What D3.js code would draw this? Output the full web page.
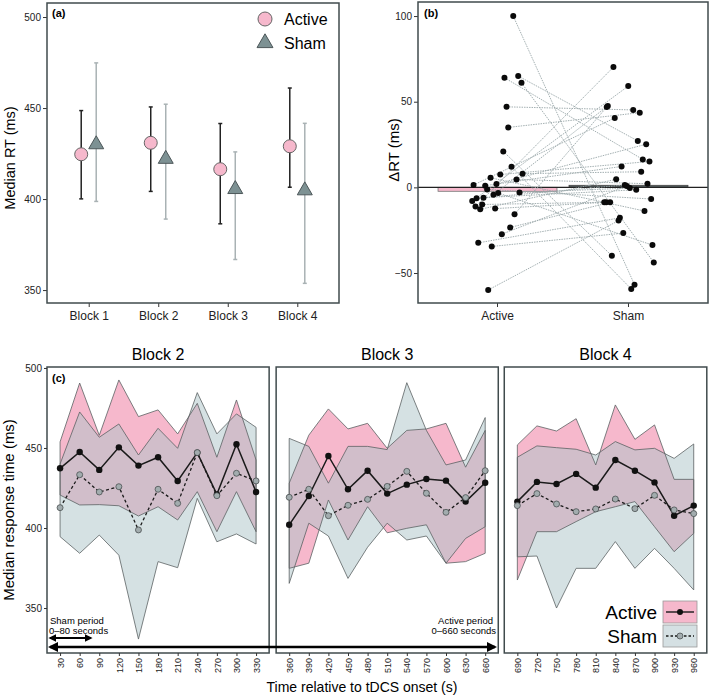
<!DOCTYPE html>
<html>
<head>
<meta charset="utf-8">
<script src="https://cdn.jsdelivr.net/npm/d3@7"></script>
<style>
body { margin: 0; background: #fff; }
svg { display: block; font-family: "Liberation Sans", Arial, sans-serif; }
</style>
</head>
<body>
<svg id="fig" width="709" height="696"></svg>
<script>
// ---- panel (a): median RT per block
var blocks = ['Block 1', 'Block 2', 'Block 3', 'Block 4'];
var activeRT = [424.6, 430.9, 416.4, 429.0];
var activeLo = [400.1, 404.2, 386.4, 406.5];
var activeHi = [448.6, 450.6, 441.5, 461.0];
var shamRT = [430.0, 422.0, 405.4, 404.7];
var shamLo = [398.7, 389.0, 366.8, 353.7];
var shamHi = [474.8, 452.1, 425.9, 441.6];

// ---- panel (b): delta RT, paired (active[i] <-> sham[i])
var groups = ['Active', 'Sham'];
var groupMean = [-2.3, 1.2];
var activeDelta = [100, 65, 64, 61, 47, 35, 21, 12, 8, 4.6, 7.5, 5.6, 1.4, 1, 2, -1.2,
  -4.3, -3.3, -3, -8, -6.4, -6, -11.2, -10, -12.8, -12.4, -15.7, -23.4, -27.3, -32.4, -34.5, -59.9];
var shamDelta = [-56.8, 27.1, 16.3, -43.8, 45.2, 43.6, -39.9, -59.3, 9.1, 2.1, 15.1, -13.8, 40.5, 12.2, 25.2, -6.8,
  47.5, -33.7, -0.4, 59.1, 1.4, -1.4, 70.2, -8.7, 4.7, -8.7, 46.9, -8.7, 0.8, -17.8, -26.7, -19.4];
// horizontal jitter, as a fraction of the band step
var activeJit = [.12, .158, .053, .183, .069, .082, .044, .107, .191, .145, .021, -.053, -.183, -.094, -.008, -.079,
  -.031, .005, .168, -.193, -.16, -.107, -.168, -.117, -.132, -.018, .13, .097, .033, -.147, -.044, -.071];
var shamJit = [.046, .071, .109, .193, .036, .086, -.127, .021, .097, .145, .16, .122, -.105, -.053, .135, .173,
  -.158, .183, .01, -.002, -.028, .059, -.115, -.185, -.094, -.17, -.166, -.14, -.013, -.066, -.04, -.076];

// ---- panel (c): time course
var times2 = [30, 60, 90, 120, 150, 180, 210, 240, 270, 300, 330];
var active2 = [437.3, 447.5, 436.3, 450.4, 439, 444.2, 429.4, 447.1, 421, 452.3, 422.5];
var sham2 = [412.7, 433.3, 422.5, 425.8, 398.8, 424.2, 415.4, 447.1, 420.2, 434.2, 429.4];
var activeHi2 = [453.8, 490.6, 457.9, 492.5, 469.6, 473.8, 458.8, 477.9, 444.2, 480, 442.5];
var activeLo2 = [420.6, 414.4, 414.6, 413.9, 407.5, 413.3, 405, 422.7, 397.7, 422.7, 397.7];
var shamHi2 = [440, 472.5, 456.7, 465, 445.6, 462.3, 449.8, 484.6, 458.8, 471.3, 462.9];
var shamLo2 = [394.6, 384.2, 395.6, 383, 330.6, 379, 375.2, 418.5, 391.4, 396.3, 390];

var times3 = [360, 390, 420, 450, 480, 510, 540, 570, 600, 630, 660];
var active3 = [402, 420, 445, 424.2, 435.8, 421.5, 427.1, 430.6, 429.6, 416.5, 428.3];
var sham3 = [419.2, 424.2, 407.7, 414.2, 417.9, 426, 435.4, 421.7, 409.8, 419, 435.8];
var activeHi3 = [428, 458, 474.4, 461.9, 465.4, 449.8, 461, 461.9, 465.4, 438, 461];
var activeLo3 = [374.8, 378, 417.5, 392.5, 413.3, 397, 399.8, 402, 378, 379, 384.2];
var shamHi3 = [456, 451, 428, 451, 451, 449, 490.8, 461, 439.4, 442.5, 469];
var shamLo3 = [365.4, 403, 395, 368.5, 388, 403, 392.5, 395, 378, 393.5, 400.8];

var times4 = [690, 720, 750, 780, 810, 840, 870, 900, 930, 960];
var active4 = [416.5, 428.8, 427.5, 433.8, 425.2, 442.5, 435.8, 428.5, 407.7, 414];
var sham4 = [414, 421.5, 415, 410.2, 411.9, 418.1, 412.1, 420.4, 411.3, 409];
var activeHi4 = [451.9, 463.8, 460.6, 468.3, 439.4, 476.9, 455.4, 464.4, 430.4, 430.4];
var activeLo4 = [367.5, 397.7, 397.7, 404, 410.2, 413.3, 416.5, 400.8, 385.2, 396.7];
var shamHi4 = [444.2, 451.3, 450.2, 449.2, 445.6, 454, 448.8, 449.8, 443.5, 452.5];
var shamLo4 = [382, 382.5, 350, 374.8, 374.8, 391.5, 374.8, 387.3, 374.8, 361.3];

var frameCol = '#404b4d';
var pink = '#f6b8cc';
var svg = d3.select('#fig');

function styleAxis(g, size) {
  g.select('.domain').remove();
  g.selectAll('.tick line').attr('stroke', '#333');
  g.selectAll('.tick text').attr('fill', '#222').style('font-size', size + 'px');
}

// ================= panel (a)
var ya = d3.scaleLinear().domain([342.9, 507.7]).range([303, 3]);
var xa = d3.scalePoint().domain(blocks).range([47, 339]).padding(0.6);
var ga = svg.append('g');
ga.append('g').attr('transform', 'translate(47,0)')
  .call(d3.axisLeft(ya).tickValues([350, 400, 450, 500]).tickSize(4).tickPadding(2))
  .call(styleAxis, 10);
ga.append('g').attr('transform', 'translate(0,303)')
  .call(d3.axisBottom(xa).tickSize(4).tickPadding(4))
  .call(styleAxis, 12);

var dodge = 7.5;
blocks.forEach(function (b, i) {
  var xs = xa(b) + dodge, xc = xa(b) - dodge;
  // sham error bar
  ga.append('line').attr('x1', xs).attr('x2', xs).attr('y1', ya(shamLo[i])).attr('y2', ya(shamHi[i]))
    .attr('stroke', '#a9b2b4').attr('stroke-width', 1.5);
  [shamLo[i], shamHi[i]].forEach(function (v) {
    ga.append('line').attr('x1', xs - 2).attr('x2', xs + 2).attr('y1', ya(v)).attr('y2', ya(v))
      .attr('stroke', '#a9b2b4').attr('stroke-width', 1.5);
  });
  // active error bar
  ga.append('line').attr('x1', xc).attr('x2', xc).attr('y1', ya(activeLo[i])).attr('y2', ya(activeHi[i]))
    .attr('stroke', '#222').attr('stroke-width', 1.5);
  [activeLo[i], activeHi[i]].forEach(function (v) {
    ga.append('line').attr('x1', xc - 2).attr('x2', xc + 2).attr('y1', ya(v)).attr('y2', ya(v))
      .attr('stroke', '#222').attr('stroke-width', 1.5);
  });
  ga.append('circle').attr('cx', xc).attr('cy', ya(activeRT[i])).attr('r', 6.5)
    .attr('fill', pink).attr('stroke', '#666').attr('stroke-width', 1);
  ga.append('path').attr('d', d3.symbol(d3.symbolTriangle, 97)())
    .attr('transform', 'translate(' + xs + ',' + ya(shamRT[i]) + ')')
    .attr('fill', '#7d9193').attr('stroke', '#4d5759').attr('stroke-width', 1);
});
ga.append('rect').attr('x', 47).attr('y', 3).attr('width', 292).attr('height', 300)
  .attr('fill', 'none').attr('stroke', frameCol).attr('stroke-width', 1.5);
ga.append('text').attr('x', 52).attr('y', 17).text('(a)')
  .style('font-size', '11px').style('font-weight', 'bold');
ga.append('text').attr('transform', 'translate(15,158) rotate(-90)').attr('text-anchor', 'middle')
  .style('font-size', '14.5px').text('Median RT (ms)');
// legend
ga.append('circle').attr('cx', 265).attr('cy', 19).attr('r', 7).attr('fill', pink).attr('stroke', '#666');
ga.append('path').attr('d', d3.symbol(d3.symbolTriangle, 110)()).attr('transform', 'translate(265,43)')
  .attr('fill', '#7d9193').attr('stroke', '#4d5759');
ga.append('text').attr('x', 284).attr('y', 25).style('font-size', '16px').text('Active');
ga.append('text').attr('x', 284).attr('y', 49).style('font-size', '16px').text('Sham');

// ================= panel (b)
var yb = d3.scaleLinear().domain([-67.5, 108.2]).range([303, 2]);
var xb = d3.scaleBand().domain(groups).range([418, 708]).paddingInner(0.092).paddingOuter(0.153);
function cx(g) { return xb(g) + xb.bandwidth() / 2; }
var gb = svg.append('g');
gb.append('g').attr('transform', 'translate(418,0)')
  .call(d3.axisLeft(yb).tickValues([-50, 0, 50, 100]).tickSize(4).tickPadding(2).tickFormat(function (d) { return d < 0 ? '\u2212' + (-d) : d; }))
  .call(styleAxis, 10);
gb.append('g').attr('transform', 'translate(0,303)')
  .call(d3.axisBottom(xb).tickSize(4).tickPadding(4))
  .call(styleAxis, 12);
gb.selectAll('rect.bar').data(groups).enter().append('rect').attr('class', 'bar')
  .attr('x', function (g) { return xb(g); })
  .attr('width', xb.bandwidth())
  .attr('y', function (g, i) { return yb(Math.max(0, groupMean[i])); })
  .attr('height', function (g, i) { return Math.abs(yb(groupMean[i]) - yb(0)); })
  .attr('fill', function (g, i) { return i === 0 ? pink : '#586264'; })
  .attr('stroke', function (g, i) { return i === 0 ? '#777' : '#444'; })
  .attr('stroke-width', 0.8);
gb.append('line').attr('x1', 418).attr('x2', 708).attr('y1', yb(0)).attr('y2', yb(0))
  .attr('stroke', '#222').attr('stroke-width', 1.3);
var step = xb.step();
gb.selectAll('line.pair').data(activeDelta).enter().append('line').attr('class', 'pair')
  .attr('x1', function (d, i) { return cx('Active') + activeJit[i] * step; })
  .attr('y1', function (d) { return yb(d); })
  .attr('x2', function (d, i) { return cx('Sham') + shamJit[i] * step; })
  .attr('y2', function (d, i) { return yb(shamDelta[i]); })
  .attr('stroke', '#9aa7a9').attr('stroke-width', 0.9).attr('stroke-dasharray', '1.5,1');
gb.selectAll('circle.pa').data(activeDelta).enter().append('circle').attr('class', 'pa')
  .attr('cx', function (d, i) { return cx('Active') + activeJit[i] * step; })
  .attr('cy', function (d) { return yb(d); }).attr('r', 3).attr('fill', '#0a0a0a');
gb.selectAll('circle.ps').data(shamDelta).enter().append('circle').attr('class', 'ps')
  .attr('cx', function (d, i) { return cx('Sham') + shamJit[i] * step; })
  .attr('cy', function (d) { return yb(d); }).attr('r', 3).attr('fill', '#0a0a0a');
gb.append('rect').attr('x', 418).attr('y', 2).attr('width', 290).attr('height', 301)
  .attr('fill', 'none').attr('stroke', frameCol).attr('stroke-width', 1.5);
gb.append('text').attr('x', 424).attr('y', 17).text('(b)')
  .style('font-size', '11px').style('font-weight', 'bold');
gb.append('text').attr('transform', 'translate(399,150) rotate(-90)').attr('text-anchor', 'middle')
  .style('font-size', '15px').text('\u0394RT (ms)');

// ================= panel (c)
var yc = d3.scaleLinear().domain([321.9, 500.6]).range([653, 367]);
var cBlocks = [
  { name: 'Block 2', t: times2, act: active2, sham: sham2, aHi: activeHi2, aLo: activeLo2, sHi: shamHi2, sLo: shamLo2 },
  { name: 'Block 3', t: times3, act: active3, sham: sham3, aHi: activeHi3, aLo: activeLo3, sHi: shamHi3, sLo: shamLo3 },
  { name: 'Block 4', t: times4, act: active4, sham: sham4, aHi: activeHi4, aLo: activeLo4, sHi: shamHi4, sLo: shamLo4 }
];
var pxPerSec = 19.6 / 30, gaps = [7, 6], xPos = 47;
cBlocks.forEach(function (b, i) {
  var d0 = b.t[0] - 20, d1 = b.t[b.t.length - 1] + 20;
  var w = (d1 - d0) * pxPerSec;
  b.x = d3.scaleLinear().domain([d0, d1]).range([xPos, xPos + w]);
  xPos += w + (gaps[i] || 0);
});

var gc = svg.append('g');
cBlocks.forEach(function (b) {
  var g = gc.append('g');
  var r = b.x.range();
  var idx = d3.range(b.t.length);
  var aArea = d3.area().x(function (i) { return b.x(b.t[i]); })
    .y0(function (i) { return yc(b.aLo[i]); }).y1(function (i) { return yc(b.aHi[i]); });
  var sArea = d3.area().x(function (i) { return b.x(b.t[i]); })
    .y0(function (i) { return yc(b.sLo[i]); }).y1(function (i) { return yc(b.sHi[i]); });
  g.append('path').attr('d', aArea(idx)).attr('fill', pink);
  g.append('path').attr('d', sArea(idx)).attr('fill', '#acc3c8').attr('fill-opacity', 0.5);
  g.append('path').attr('d', aArea(idx) + 'Z').attr('fill', 'none').attr('stroke', '#5c6263').attr('stroke-width', 0.8);
  g.append('path').attr('d', sArea(idx) + 'Z').attr('fill', 'none').attr('stroke', '#5c6263').attr('stroke-width', 0.8);

  var lineA = d3.line().x(function (i) { return b.x(b.t[i]); }).y(function (i) { return yc(b.act[i]); });
  var lineS = d3.line().x(function (i) { return b.x(b.t[i]); }).y(function (i) { return yc(b.sham[i]); });
  g.append('path').attr('d', lineS(idx)).attr('fill', 'none').attr('stroke', '#1a1a1a')
    .attr('stroke-width', 1.3).attr('stroke-dasharray', '3,2.5');
  g.append('path').attr('d', lineA(idx)).attr('fill', 'none').attr('stroke', '#1a1a1a').attr('stroke-width', 1.5);
  g.selectAll('circle.a').data(idx).enter().append('circle').attr('class', 'a')
    .attr('cx', function (i) { return b.x(b.t[i]); }).attr('cy', function (i) { return yc(b.act[i]); })
    .attr('r', 3.2).attr('fill', '#111');
  g.selectAll('circle.s').data(idx).enter().append('circle').attr('class', 's')
    .attr('cx', function (i) { return b.x(b.t[i]); }).attr('cy', function (i) { return yc(b.sham[i]); })
    .attr('r', 3).attr('fill', '#a2acae').attr('stroke', '#4a5052').attr('stroke-width', 0.8);

  g.append('rect').attr('x', r[0]).attr('y', 367).attr('width', r[1] - r[0]).attr('height', 286)
    .attr('fill', 'none').attr('stroke', frameCol).attr('stroke-width', 1.5);
  g.append('text').attr('x', (r[0] + r[1]) / 2).attr('y', 360).attr('text-anchor', 'middle')
    .style('font-size', '16px').text(b.name);
  var ax = g.append('g').attr('transform', 'translate(0,653)')
    .call(d3.axisBottom(b.x).tickValues(b.t).tickSize(3).tickPadding(0))
    .call(styleAxis, 9);
  ax.selectAll('.tick text').attr('transform', 'translate(0,5) rotate(-90)')
    .attr('text-anchor', 'end').attr('dy', '0.35em').attr('y', 0);
});
gc.append('g').attr('transform', 'translate(47,0)')
  .call(d3.axisLeft(yc).tickValues([350, 400, 450, 500]).tickSize(3).tickPadding(2))
  .call(styleAxis, 10);
gc.append('text').attr('x', 52).attr('y', 382).text('(c)')
  .style('font-size', '11px').style('font-weight', 'bold');
gc.append('text').attr('transform', 'translate(14,510) rotate(-90)').attr('text-anchor', 'middle')
  .style('font-size', '15px').text('Median response time (ms)');
gc.append('text').attr('x', 362).attr('y', 692).attr('text-anchor', 'middle')
  .style('font-size', '14px').text('Time relative to tDCS onset (s)');

// stimulation period arrows
var defs = svg.append('defs');
defs.append('marker').attr('id', 'ah').attr('viewBox', '0 0 10 10').attr('refX', 8).attr('refY', 5)
  .attr('markerWidth', 4).attr('markerHeight', 4).attr('orient', 'auto-start-reverse')
  .append('path').attr('d', 'M0,0L10,5L0,10Z').attr('fill', '#000');
gc.append('line').attr('x1', 50).attr('x2', 91).attr('y1', 638).attr('y2', 638)
  .attr('stroke', '#000').attr('stroke-width', 2).attr('marker-start', 'url(#ah)').attr('marker-end', 'url(#ah)');
gc.append('line').attr('x1', 50).attr('x2', 495).attr('y1', 647).attr('y2', 647)
  .attr('stroke', '#000').attr('stroke-width', 2.5).attr('marker-start', 'url(#ah)').attr('marker-end', 'url(#ah)');
var note = { 'font-size': '9.5px', 'font-family': '"Liberation Sans Narrow", "Arial Narrow", "Liberation Sans", sans-serif' };
function addNote(x, y, anchor, s) {
  var t = gc.append('text').attr('x', x).attr('y', y).attr('text-anchor', anchor).text(s);
  Object.keys(note).forEach(function (k) { t.style(k, note[k]); });
}
addNote(50, 624, 'start', 'Sham period');
addNote(49, 634, 'start', '0\u201380 seconds');
addNote(493, 624, 'end', 'Active period');
addNote(496, 634, 'end', '0\u2013660 seconds');

// legend for (c)
var lg = gc.append('g');
[{ lab: 'Active', fill: pink, y: 601, dash: null, dot: '#111', stroke: 'none' },
 { lab: 'Sham', fill: '#d5e0e3', y: 625, dash: '2.5,2', dot: '#a2acae', stroke: '#4a5052' }].forEach(function (d) {
  lg.append('rect').attr('x', 663).attr('y', d.y).attr('width', 34).attr('height', 22)
    .attr('fill', d.fill).attr('stroke', '#9a9a9a').attr('stroke-width', 0.8);
  lg.append('line').attr('x1', 666).attr('x2', 694).attr('y1', d.y + 11).attr('y2', d.y + 11)
    .attr('stroke', '#1a1a1a').attr('stroke-width', 1.4).attr('stroke-dasharray', d.dash);
  lg.append('circle').attr('cx', 680).attr('cy', d.y + 11).attr('r', 3)
    .attr('fill', d.dot).attr('stroke', d.stroke).attr('stroke-width', 0.8);
  lg.append('text').attr('x', 657).attr('y', d.y + 18).attr('text-anchor', 'end')
    .style('font-size', '19px').text(d.lab);
});
</script>
</body>
</html>
